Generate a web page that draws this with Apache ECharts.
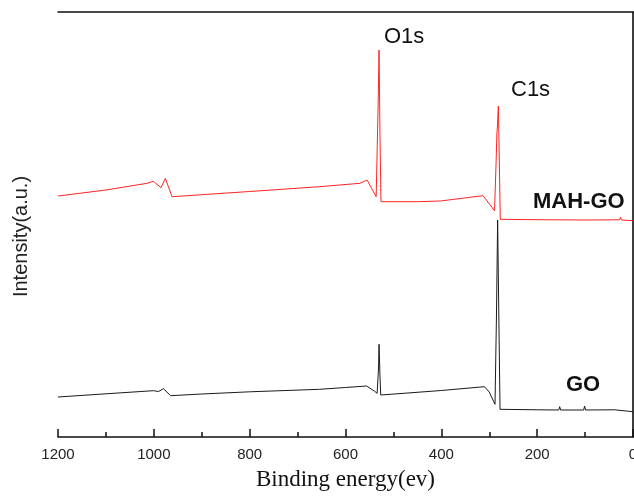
<!DOCTYPE html>
<html>
<head>
<meta charset="utf-8">
<script src="https://cdn.jsdelivr.net/npm/echarts@6/dist/echarts.min.js"></script>
<style>
  html, body { margin: 0; padding: 0; background: #fff; overflow: hidden; }
  #chart { width: 634px; height: 497px; }
</style>
</head>
<body>
<div id="chart"></div>
<script>
// XPS survey spectra: binding energy (eV) vs intensity (a.u.), curves offset vertically
const xTickValues = [1200, 1000, 800, 600, 400, 200, 0];

// MAH-GO survey (upper curve)
const mahEnergy = [1200, 1100, 1014, 1001, 985, 976, 962, 900, 800, 654, 570, 555, 536, 532, 530, 528, 526, 524,
  450, 402, 400, 398, 313, 311, 289, 286, 284, 283, 281, 279.5, 277, 200, 100, 28, 26, 24, 0];
const mahIntensity = [241, 247, 253.7, 255.7, 249.3, 258.7, 240.3, 242.3, 245.5, 250.3, 253.7, 257, 240.3, 330, 387, 300, 235.3, 233.7,
  235.3, 236, 237.7, 236, 241.3, 242, 226.3, 270, 304, 310, 331, 290, 217.7, 217.3, 217, 217.2, 219.7, 217, 216.3];

// GO survey (lower curve)
const goEnergy = [1200, 1100, 1001, 990, 980, 965, 900, 800, 654, 600, 556, 540, 534, 531, 530, 528, 526.5,
  400, 310, 300, 288, 285, 282.5, 280, 277.5, 200, 155, 153, 151, 103, 101, 99, 38, 36, 34, 0];
const goIntensity = [40, 43.2, 46.3, 45.5, 48.3, 41.3, 43, 45.2, 47.7, 49.5, 51, 46, 43.7, 70, 92.7, 60, 42,
  46.5, 50.3, 45, 32.7, 120, 217, 120, 27.7, 27.2, 27, 30.3, 27, 27, 31, 27, 27.2, 28.5, 26, 25.3];

const toPairs = (xs, ys) => xs.map((x, i) => [x, ys[i]]);

const sans = 'Liberation Sans, Arial, sans-serif';
const serif = 'Liberation Serif, Times New Roman, serif';

const chart = echarts.init(document.getElementById('chart'), null, { renderer: 'canvas' });

chart.setOption({
  animation: false,
  backgroundColor: '#ffffff',
  grid: { left: 58, right: 1, top: 12, bottom: 60, containLabel: false, outerBoundsMode: 'none' },
  xAxis: [
    {
      type: 'value',
      position: 'bottom',
      inverse: true,
      min: 0,
      max: 1200,
      interval: 200,
      name: 'Binding energy(ev)',
      nameLocation: 'middle',
      nameGap: 31,
      nameTextStyle: { fontFamily: serif, fontSize: 23, color: '#111' },
      axisLine: { show: true, lineStyle: { color: '#111', width: 1.6 } },
      axisTick: { show: true, inside: true, length: 8, lineStyle: { color: '#111', width: 1.5 } },
      minorTick: { show: true, splitNumber: 2, length: 5, lineStyle: { color: '#111', width: 1.5 } },
      axisLabel: {
        margin: 10,
        fontFamily: sans,
        fontSize: 15,
        color: '#222',
        formatter: v => (xTickValues.includes(v) ? String(v) : '')
      },
      splitLine: { show: false }
    },
    {
      type: 'value',
      position: 'top',
      inverse: true,
      min: 0,
      max: 1200,
      axisLine: { show: true, lineStyle: { color: '#111', width: 1.6 } },
      axisTick: { show: false },
      axisLabel: { show: false },
      splitLine: { show: false }
    }
  ],
  yAxis: {
    type: 'value',
    position: 'left',
    min: 0,
    max: 425,
    name: 'Intensity(a.u.)',
    nameLocation: 'middle',
    nameGap: 27,
    nameRotate: 90,
    nameTextStyle: { fontFamily: sans, fontSize: 20, color: '#222', padding: [0, 24, 0, 0] },
    axisLine: { show: true, lineStyle: { color: '#111', width: 1.6 } },
    axisTick: { show: false },
    axisLabel: { show: false },
    splitLine: { show: false }
  },
  series: [
    {
      name: 'GO',
      type: 'line',
      data: toPairs(goEnergy, goIntensity),
      showSymbol: false,
      symbol: 'none',
      smooth: false,
      lineStyle: { color: '#1a1a1a', width: 1 },
      z: 2
    },
    {
      name: 'MAH-GO',
      type: 'line',
      data: toPairs(mahEnergy, mahIntensity),
      showSymbol: false,
      symbol: 'none',
      smooth: false,
      lineStyle: { color: '#ff2424', width: 1 },
      z: 3
    }
  ],
  graphic: [
    // faint right edge of the frame
    { type: 'line', shape: { x1: 633.5, y1: 12, x2: 633.5, y2: 437 }, style: { stroke: '#e2e2e2', lineWidth: 1 }, z: 0 },
    { type: 'text', left: 384, top: 26, style: { text: 'O1s', font: '22px ' + sans, fill: '#111' } },
    { type: 'text', left: 511, top: 79, style: { text: 'C1s', font: '22px ' + sans, fill: '#111' } },
    { type: 'text', left: 533, top: 191, style: { text: 'MAH-GO', font: 'bold 22px ' + sans, fill: '#111' } },
    { type: 'text', left: 566, top: 374, style: { text: 'GO', font: 'bold 22px ' + sans, fill: '#111' } }
  ]
});
</script>
</body>
</html>
